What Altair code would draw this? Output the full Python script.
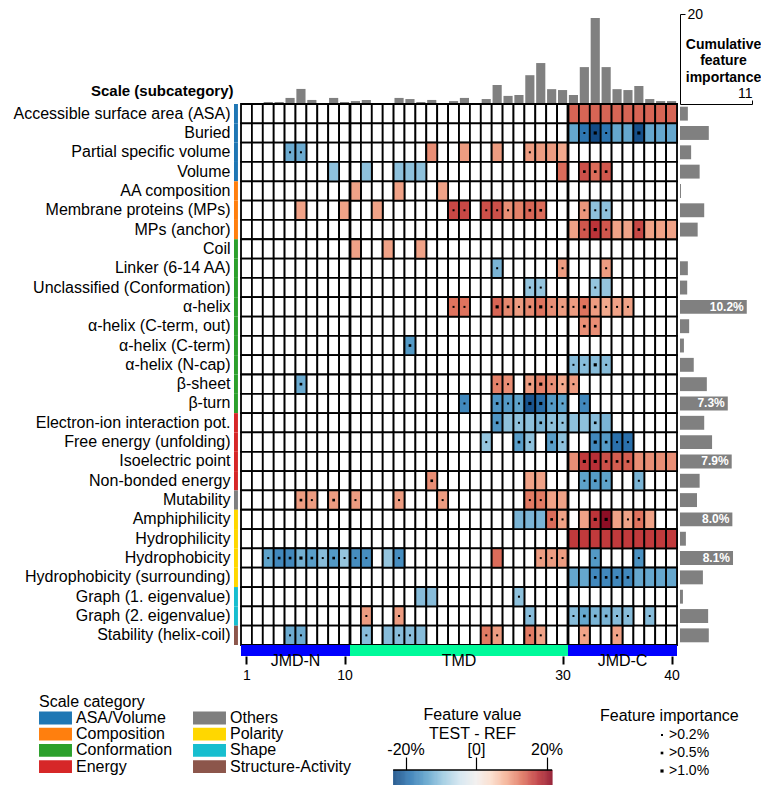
import altair as alt
import numpy as np
import pandas as pd

FONT = "Arial"

# ---------------------------------------------------------------- rows (scale subcategories)
scales = [
    "Accessible surface area (ASA)", "Buried", "Partial specific volume", "Volume",
    "AA composition", "Membrane proteins (MPs)", "MPs (anchor)",
    "Coil", "Linker (6-14 AA)", "Unclassified (Conformation)", "α-helix",
    "α-helix (C-term, out)", "α-helix (C-term)", "α-helix (N-cap)", "β-sheet", "β-turn",
    "Electron-ion interaction pot.", "Free energy (unfolding)", "Isoelectric point",
    "Non-bonded energy", "Mutability",
    "Amphiphilicity", "Hydrophilicity", "Hydrophobicity", "Hydrophobicity (surrounding)",
    "Graph (1. eigenvalue)", "Graph (2. eigenvalue)", "Stability (helix-coil)",
]
scale_category = (["ASA/Volume"] * 4 + ["Composition"] * 3 + ["Conformation"] * 9
                  + ["Energy"] * 4 + ["Others"] + ["Polarity"] * 4 + ["Shape"] * 2
                  + ["Structure-Activity"])

category_names = ["ASA/Volume", "Composition", "Conformation", "Energy",
                  "Others", "Polarity", "Shape", "Structure-Activity"]
category_colors = ["#1f77b4", "#ff7f0e", "#2ca02c", "#d62728",
                   "#7f7f7f", "#ffd700", "#17becf", "#8c564b"]

# ---------------------------------------------------------------- sequence regions
regions = ["JMD-N", "TMD", "JMD-C"]
region_start = [1, 11, 31]
region_end = [10, 30, 40]
region_colors = ["#0000ff", "#00fa9a", "#0000ff"]
position_ticks = [1, 10, 30, 40]

# ---------------------------------------------------------------- importance summaries
positions = list(range(1, 41))
cum_importance = [0, 0, 0.45, 0.45, 1.35, 3.35, 0.9, 0.22, 1.35, 0.45,
                  0.65, 0.9, 0.1, 0.22, 1.35, 1.1, 0.45, 0.9, 0.22, 0.65,
                  1.35, 0, 1.1, 4.2, 1.8, 2.0, 6.4, 9.1, 3.3, 3.1,
                  2.0, 8.2, 19.1, 8.2, 3.3, 3.1, 4.0, 1.1, 0.65, 0.65]
scale_importance = [1.2, 4.4, 1.7, 3.0, 0.15, 3.7, 2.7, 0.0, 1.2, 1.1,
                    10.2, 1.4, 0.6, 2.1, 4.1, 7.3, 3.7, 4.9, 7.9, 3.0,
                    2.6, 8.0, 0.9, 8.1, 3.5, 0.45, 4.3, 4.4]

importance_labels = [">0.2%", ">0.5%", ">1.0%"]

# ---------------------------------------------------------------- features per scale
# (position, feature value TEST - REF in %, importance level 0-3)
feature_cells = [
    [(31, 14, 0), (32, 14, 0), (33, 14, 0), (34, 14, 0), (35, 14, 0), (36, 14, 0),
     (37, 14, 0), (38, 14, 0), (39, 14, 0), (40, 14, 0)],
    [(31, -13.5, 0), (32, -19, 1), (33, -23.5, 3), (34, -19, 1), (35, -13.5, 0),
     (36, -13.5, 0), (37, -23, 3), (38, -13.5, 0), (39, -13.5, 0), (40, -13.5, 0)],
    [(5, -13, 1), (6, -13, 1), (18, 11, 0), (21, 10, 0), (24, 10, 0), (27, 10, 1),
     (28, 10, 0), (29, 10, 0), (30, 9, 0)],
    [(9, -10.5, 0), (12, -10.5, 0), (15, -10.5, 0), (16, -10.5, 0), (17, -10.5, 0),
     (30, 13.5, 0), (32, 15.5, 2), (33, 13.5, 2), (34, 15, 2)],
    [(11, 9.5, 0), (15, 9.5, 0), (19, 9.5, 0)],
    [(6, 9.5, 0), (10, 9.5, 0), (13, 9.5, 0), (20, 16, 1), (21, 16, 1), (23, 15.5, 1),
     (24, 15.5, 1), (25, 11, 1), (26, 12, 0), (27, 14, 2), (28, 13.5, 2), (32, 10.5, 1),
     (33, -10.5, 1), (34, -10.5, 1)],
    [(31, 9.5, 0), (32, 15, 1), (33, 17.5, 3), (34, 15, 1), (35, 9.5, 0), (36, 9.5, 0),
     (37, 16, 2), (38, 9.5, 0), (39, 9.5, 0), (40, 9.5, 0)],
    [(11, 9.5, 0), (14, 9.5, 0), (17, 9.5, 0)],
    [(24, -12, 1), (30, 10, 1), (34, 10, 1)],
    [(27, -10, 1), (28, -10, 1), (33, -10, 1), (34, -10, 0)],
    [(20, 13, 1), (21, 13, 1), (24, 14, 3), (25, 11.5, 2), (26, 10, 1), (27, 11.5, 2),
     (28, 13, 3), (29, 11, 1), (30, 10, 1), (31, 10, 1), (32, 13, 3), (33, 10, 2),
     (34, 9, 1), (35, 9.5, 1), (36, 9.5, 1)],
    [(32, 11, 2), (33, 11, 2)],
    [(16, -15, 2)],
    [(31, -11, 1), (32, -11, 1), (33, -11, 3), (34, -11, 1)],
    [(6, -13, 2), (24, 12, 1), (25, 11, 1), (27, 10, 2), (28, 12, 3), (29, 11, 1),
     (30, 9, 1), (31, 10, 1)],
    [(21, -17, 1), (24, -15.5, 2), (25, -15, 1), (26, -14, 1), (27, -22.5, 3),
     (28, -20, 3), (29, -15, 1), (30, -14, 1), (32, -17, 1)],
    [(24, -15.5, 2), (25, -10.5, 0), (26, -10.5, 1), (27, -10.5, 0), (28, -12, 2),
     (29, -10.5, 1), (30, -10.5, 1), (31, -10.5, 0), (32, -10.5, 0), (33, -11, 2),
     (34, -12, 0)],
    [(23, -10, 1), (26, -14.5, 2), (27, -10.5, 1), (29, -14.5, 2), (30, -10.5, 1),
     (33, -17, 3), (34, -15, 2), (35, -19.5, 1), (36, -19.5, 1)],
    [(31, 11, 0), (32, 17, 3), (33, 18, 3), (34, 15.5, 2), (35, 14.5, 2), (36, 14.5, 2),
     (37, 11, 0), (38, 11, 0), (39, 11, 0), (40, 11, 0)],
    [(18, 11, 2), (27, 9.5, 0), (28, 9.5, 0), (32, -14, 1), (33, -15, 2), (34, -14, 1),
     (37, -12, 1)],
    [(6, 10, 2), (7, 10, 1), (9, 10, 2), (11, 10, 1), (15, 10, 1), (19, 10, 1),
     (27, 12.5, 1), (28, 12.5, 1), (29, 9.5, 0), (30, 9.5, 0)],
    [(26, -12, 0), (27, -12, 0), (28, -12, 0), (29, 13.5, 2), (30, 9.5, 1), (32, 9.5, 0),
     (33, 17.5, 3), (34, 21.5, 3), (35, 9.5, 0), (36, 9.5, 1), (37, 13, 2), (38, 9.5, 0)],
    [(31, 17, 0), (32, 17, 0), (33, 17, 0), (34, 17, 0), (35, 17, 0), (36, 17, 0),
     (37, 17, 0), (38, 17, 0), (39, 17, 0), (40, 17, 0)],
    [(3, -14, 1), (4, -17, 2), (5, -17, 2), (6, -12.5, 3), (7, -14.5, 2), (8, -11, 1),
     (9, -15, 2), (10, -10, 1), (11, -16.5, 1), (12, -16.5, 1), (14, -10, 0),
     (15, -16.5, 1), (24, 13.5, 0), (28, 10, 1), (29, 10, 1), (30, 10, 1), (33, -15, 1),
     (37, -16, 1)],
    [(31, -13.5, 0), (32, -13.5, 0), (33, -17, 2), (34, -17, 2), (35, -17, 2),
     (36, -17, 2), (37, -13.5, 0), (38, -13.5, 0), (39, -13.5, 0), (40, -13.5, 0)],
    [(17, -11, 0), (18, -11, 0), (26, -10.5, 1)],
    [(12, 10, 1), (15, 10, 1), (27, -11, 1), (31, -11, 1), (32, -13.5, 2), (33, -12, 2),
     (34, -12, 2), (35, -11, 1), (36, -11, 1), (38, -11, 1)],
    [(5, -13, 1), (6, -13, 1), (12, -11, 1), (14, -11, 0), (15, -11, 1), (16, -11, 1),
     (17, -11, 0), (23, 12.5, 1), (24, 10, 1), (27, 12.5, 1), (28, 9.5, 1), (32, 9.5, 1),
     (35, 9.5, 1)],
]

# ---------------------------------------------------------------- tables
cell_rows = []
for name, cells in zip(scales, feature_cells):
    for pos, val, lvl in cells:
        cell_rows.append({"scale": name, "pos": pos, "value": val,
                          "importance": importance_labels[lvl - 1] if lvl else None})
cells_df = pd.DataFrame(cell_rows)
marks_df = cells_df.dropna(subset=["importance"])
grid_df = pd.DataFrame([{"scale": s, "pos": p} for s in scales for p in positions])
strip_df = pd.DataFrame({"scale": scales, "category": scale_category,
                         "sx": -0.14, "sx2": 0.22})
top_df = pd.DataFrame({"pos": positions, "imp": cum_importance})
right_df = pd.DataFrame({"scale": scales, "imp": scale_importance})
region_df = pd.DataFrame({"region": regions, "start": region_start, "end": region_end,
                          "colour": region_colors})
bounds_df = pd.DataFrame({"b": [e + 0.5 for e in region_end[:-1]]})

GRID_W, GRID_H = 436, 541
SIDE_W = 72

POS_SCALE = alt.Scale(domain=[0.5, 40.5], nice=False, zero=False)
VALUE_MIN, VALUE_MAX = -23.5, 21.6
VALUE_SCALE = alt.Scale(scheme="redblue", reverse=True,
                        domain=[VALUE_MIN, VALUE_MAX], domainMid=0)

ROW_Y = alt.Y(
    "scale:N",
    scale=alt.Scale(domain=scales, paddingInner=0, paddingOuter=0),
    axis=alt.Axis(
        title="Scale (subcategory)", titleAngle=0, titleAlign="right",
        titleBaseline="middle", titleX=-8, titleY=-14, titleFontSize=15,
        titleFontWeight="bold", labelFontSize=16, labelPadding=11, labelLimit=0,
        ticks=False, domain=False, labelOverlap=False,
    ),
)

# ---------------------------------------------------------------- heatmap
bg = alt.Chart(grid_df).transform_calculate(
    x0="datum.pos - 0.5", x1="datum.pos + 0.5"
).mark_rect(fill="white", stroke="black", strokeWidth=1.8).encode(
    x=alt.X("x0:Q", scale=POS_SCALE, axis=None), x2="x1:Q", y=ROW_Y
)

colored = alt.Chart(cells_df).transform_calculate(
    x0="datum.pos - 0.5", x1="datum.pos + 0.5"
).mark_rect(stroke="black", strokeWidth=1.8).encode(
    x=alt.X("x0:Q", scale=POS_SCALE, axis=None), x2="x1:Q", y=ROW_Y,
    color=alt.Color("value:Q", scale=VALUE_SCALE, legend=None),
)

separators = alt.Chart(bounds_df).mark_rule(color="black", strokeWidth=2.8).encode(
    x=alt.X("b:Q", scale=POS_SCALE, axis=None)
)

strip = alt.Chart(strip_df).mark_rect().encode(
    x=alt.X("sx:Q", scale=POS_SCALE, axis=None), x2="sx2:Q", y=ROW_Y,
    fill=alt.Fill(
        "category:N",
        scale=alt.Scale(domain=category_names, range=category_colors),
        legend=alt.Legend(
            title="Scale category", orient="none", legendX=-202, legendY=680,
            columns=2, columnPadding=20, rowPadding=0.2,
            symbolType="M-2.06,-0.8H2.06V0.8H-2.06Z", symbolSize=256,
            symbolStrokeWidth=0, symbolOffset=8.5, labelOffset=12.5,
            labelFontSize=16, titleFontSize=16, titleFontWeight="normal",
            titlePadding=0, labelLimit=300,
        ),
    ),
)

markers = alt.Chart(marks_df).mark_square(color="black", filled=True, opacity=1).encode(
    x=alt.X("pos:Q", scale=POS_SCALE, axis=None), y=ROW_Y,
    size=alt.Size(
        "importance:O",
        scale=alt.Scale(domain=importance_labels, range=[4, 10, 25]),
        legend=alt.Legend(
            title="Feature importance", orient="none", legendX=359, legendY=694,
            symbolType="square", symbolFillColor="black", symbolStrokeWidth=0,
            symbolOffset=55, labelOffset=0, rowPadding=4, titlePadding=4,
            labelFontSize=14, titleFontSize=16, titleFontWeight="normal",
        ),
    ),
)

heatmap = alt.layer(bg, colored, separators, strip, markers).properties(
    width=GRID_W, height=GRID_H
)

# ---------------------------------------------------------------- top bars
top = alt.Chart(top_df).transform_calculate(
    xa="datum.pos - 0.42", xb="datum.pos + 0.42"
).mark_bar(color="#808080").encode(
    x=alt.X("xa:Q", scale=POS_SCALE, axis=None), x2="xb:Q",
    y=alt.Y(
        "imp:Q", scale=alt.Scale(domain=[0, 20], nice=False),
        axis=alt.Axis(
            orient="right", offset=3, values=[20], tickSize=5, tickColor="black",
            domainColor="black", labelFontSize=14, labelPadding=2, grid=False,
            title=["Cumulative", "feature", "importance"], titleAngle=0,
            titleAlign="center", titleBaseline="top", titleX=43, titleY=23,
            titleFontSize=14, titleFontWeight="bold", titleLineHeight=16.5,
        ),
    ),
    y2=alt.datum(0),
).properties(width=GRID_W, height=90)

# ---------------------------------------------------------------- right bars
RIGHT_Y = alt.Y("scale:N", scale=alt.Scale(domain=scales, paddingInner=0.28,
                                            paddingOuter=0.14), axis=None)
RIGHT_X = alt.X(
    "imp:Q", scale=alt.Scale(domain=[0, 11], nice=False),
    axis=alt.Axis(orient="top", values=[11], tickSize=4, tickColor="black",
                  domainColor="black", labelFontSize=14, labelPadding=0,
                  grid=False, title=None),
)
right_bars = alt.Chart(right_df).mark_bar(color="#808080").encode(x=RIGHT_X, y=RIGHT_Y)
right_text = alt.Chart(right_df).transform_filter("datum.imp >= 7").transform_calculate(
    txt="format(datum.imp, '.1f') + '%'"
).mark_text(align="right", baseline="middle", dx=-3, color="white",
            fontWeight="bold", fontSize=12).encode(x=RIGHT_X, y=RIGHT_Y, text="txt:N")
right = alt.layer(right_bars, right_text).properties(width=SIDE_W, height=GRID_H)

# ---------------------------------------------------------------- region bar
REGION_AXIS = alt.Axis(values=position_ticks, format="d", tickSize=8, tickWidth=2,
                       tickColor="black", domain=False, labelFontSize=14,
                       labelPadding=4, labelFlush=False, grid=False, title=None)
region_bar = alt.Chart(region_df).transform_calculate(
    xa="datum.start - 0.5", xb="datum.end + 0.5"
).mark_rect().encode(
    x=alt.X("xa:Q", scale=POS_SCALE, axis=REGION_AXIS),
    x2="xb:Q",
    fill=alt.Fill("colour:N", scale=None, legend=None),
)
region_text = alt.Chart(region_df).transform_calculate(
    xm="(datum.start + datum.end) / 2"
).mark_text(fontSize=16, baseline="alphabetic", dy=15.5).encode(
    x=alt.X("xm:Q", scale=POS_SCALE, axis=REGION_AXIS), text="region:N"
)
region = alt.layer(region_bar, region_text).properties(width=GRID_W, height=11)

# ---------------------------------------------------------------- colour bar
cb_step = 0.15
cb_df = pd.DataFrame({"v": np.arange(VALUE_MIN, VALUE_MAX, cb_step)})
cb_df["v2"] = cb_df["v"] + cb_step * 1.4
cb_edge = pd.DataFrame({"a": [VALUE_MIN], "b": [VALUE_MAX]})
CB_SCALE = alt.Scale(domain=[-66.67, 57.02], nice=False, zero=False)
cb_rects = alt.Chart(cb_df).mark_rect().encode(
    x=alt.X("v:Q", scale=CB_SCALE,
            axis=alt.Axis(orient="top", values=[-20, 0, 20],
                          labelExpr="datum.value == 0 ? '[0]' : datum.value + '%'",
                          tickSize=13, tickWidth=1.2, tickColor="black", domain=False,
                          labelFontSize=16, labelPadding=0, labelFlush=False, grid=False,
                          title=["Feature value", "TEST - REF"], titleFontSize=16,
                          titleFontWeight="normal", titleX=231, titleY=-64,
                          titleAlign="center", titleBaseline="top", titleAngle=0,
                          titleLineHeight=19)),
    x2="v2:Q",
    color=alt.Color("v:Q", scale=VALUE_SCALE, legend=None),
)
cb_line = alt.Chart(cb_edge).mark_rule(color="black", strokeWidth=1.5).encode(
    x=alt.X("a:Q", scale=CB_SCALE), x2="b:Q", y=alt.value(0)
)
colorbar = alt.layer(cb_rects, cb_line).properties(width=GRID_W, height=15)


def blank(w, h):
    return alt.Chart(pd.DataFrame({"v": [0]})).mark_point(opacity=0, size=1).encode(
        x=alt.X("v:Q", axis=None), y=alt.Y("v:Q", axis=None)
    ).properties(width=w, height=h)


chart = alt.concat(
    top, blank(SIDE_W, 1),
    heatmap, right,
    region, blank(SIDE_W, 1),
    blank(GRID_W, 114), blank(SIDE_W, 1),
    colorbar, blank(SIDE_W, 1),
    columns=2, spacing={"row": 0, "column": 3}, bounds="flush", align="each",
).properties(
    padding={"left": 13, "top": 7, "right": 0, "bottom": 0}
).configure(font=FONT).configure_view(stroke=None).configure_axis(
    labelColor="black", titleColor="black"
).configure_legend(labelColor="black", titleColor="black")

chart.save("out.html", embed_options={"renderer": "svg", "actions": False})
